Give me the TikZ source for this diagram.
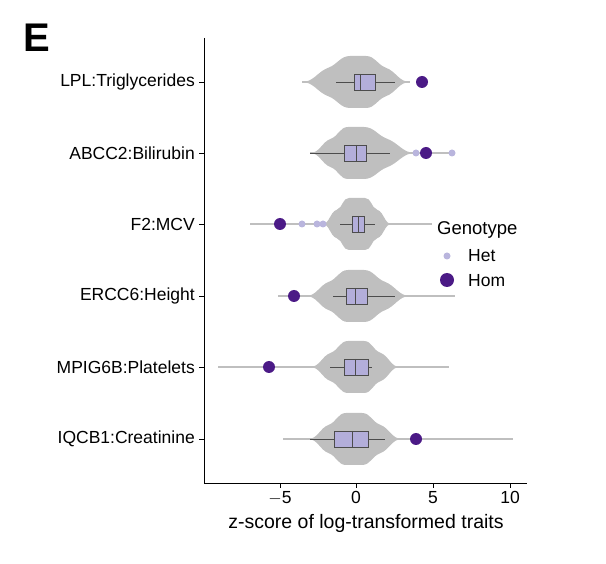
\documentclass[tikz,border=0pt]{standalone}
\usepackage{fontspec}
\setmainfont{Liberation Sans}
\usetikzlibrary{calc}
\begin{document}
\begin{tikzpicture}[x=1pt,y=-1pt,
	every node/.style = {font=\fontsize{17.5}{20}\selectfont, inner sep=1pt},
	Violin/.style = {fill=black!25},
	Range/.style = {draw=black!25, line width=1.2pt},
	Whisk/.style = {draw=black!70, line width=0.6pt},
	Box/.style = {fill=boxfill, draw=black!70, line width=0.6pt},
	Het/.style = {fill=hetcol},
	Hom/.style = {fill=homcol}
]
\definecolor{boxfill}{HTML}{B3AEDA}
\definecolor{hetcol}{HTML}{B9B5DD}
\definecolor{homcol}{HTML}{4B1A86}
\useasboundingbox (0,0) rectangle (606,564);
% row: y, violin l/peak/r, range end, box, whiskers
\newcommand\trait[9]{%
	\draw[Range] (#2,#1) -- (#5,#1);
	\fill[Violin] (#2,#1) to[out=0,in=200] ($(#2,#1)!0.55!(#3-8,#1-26)$) to[out=20,in=180] (#3-8,#1-26) -- (#3+8,#1-26)
		to[out=0,in=160] ($(#4,#1)!0.55!(#3+8,#1-26)$) to[out=-20,in=180] (#4,#1)
		to[out=180,in=20] ($(#4,#1)!0.55!(#3+8,#1+26)$) to[out=200,in=0] (#3+8,#1+26) -- (#3-8,#1+26)
		to[out=180,in=-20] ($(#2,#1)!0.55!(#3-8,#1+26)$) to[out=160,in=0] cycle;
	\draw[Whisk] (#8,#1) -- (#9,#1);
	\draw[Box] (#6,#1-8) rectangle (#7,#1+8);
}
\trait{82}{302}{358}{410}{410}{354}{375}{336}{395}
\draw[Whisk] (360,74) -- (360,90);
\trait{153}{310}{356}{415}{455}{344}{366}{310}{390}
\draw[Whisk] (356,145) -- (356,161);
\trait{224}{322}{357}{392}{452}{352}{364}{340}{375}
\draw[Whisk] (358,216) -- (358,232);
\draw[Range] (250,224) -- (322,224);
\trait{296}{306}{356}{410}{455}{346}{367}{333}{395}
\draw[Whisk] (355,288) -- (355,304);
\draw[Range] (278,296) -- (306,296);
\trait{367}{310}{356}{400}{449}{344}{368}{330}{372}
\draw[Whisk] (355,359) -- (355,375);
\draw[Range] (218,367) -- (310,367);
\trait{439}{308}{354}{402}{513}{334}{368}{310}{385}
\draw[Whisk] (352,431) -- (352,447);
\draw[Range] (283,439) -- (308,439);
% points
\fill[Hom] (422,82) circle (6);
\foreach \px in {416,452} \fill[Het] (\px,153) circle (3.5);
\fill[Hom] (426,153) circle (6);
\foreach \px in {302,317,323} \fill[Het] (\px,224) circle (3.5);
\fill[Hom] (280,224) circle (6);
\fill[Hom] (294,296) circle (6);
\fill[Hom] (269,367) circle (6);
\fill[Hom] (416,439) circle (6);
% axes
\coordinate (o) at (204,483);
\draw[line width=0.8pt] (204,38) -- (o) -- (527,483);
\foreach \yy/\txt [count=\i] in {82/LPL:Triglycerides,153/ABCC2:Bilirubin,224/F2:MCV,
	296/ERCC6:Height,367/MPIG6B:Platelets,439/IQCB1:Creatinine} {
	\draw[line width=0.8pt] (199,\yy) -- (204,\yy);
	\node[anchor=east] (lab\i) at (196,\yy) {\txt};
}
\foreach \xx/\txt in {280/$-$5,356/0,433/5,510/10} {
	\draw[line width=0.8pt] (\xx,483) -- (\xx,488);
	\node[anchor=north] at (\xx,490) {\txt};
}
\node (xtitle) at (366,523) {\fontsize{19.5}{22}\selectfont z-score of log-transformed traits};
\node[font=\fontsize{40}{42}\selectfont\bfseries] (panel) at (37,38) {E};
% legend
\fill[white] (432,212) rectangle (528,291);
\node[anchor=west] (leg) at (436,230) {\fontsize{18.5}{20}\selectfont Genotype};
\fill[Het] (447,256) circle (3.5);
\fill[Hom] (447,280) circle (7);
\node[anchor=west] (het) at (467,256) {Het};
\node[anchor=west] (hom) at (467,281) {Hom};
\end{tikzpicture}
\end{document}
